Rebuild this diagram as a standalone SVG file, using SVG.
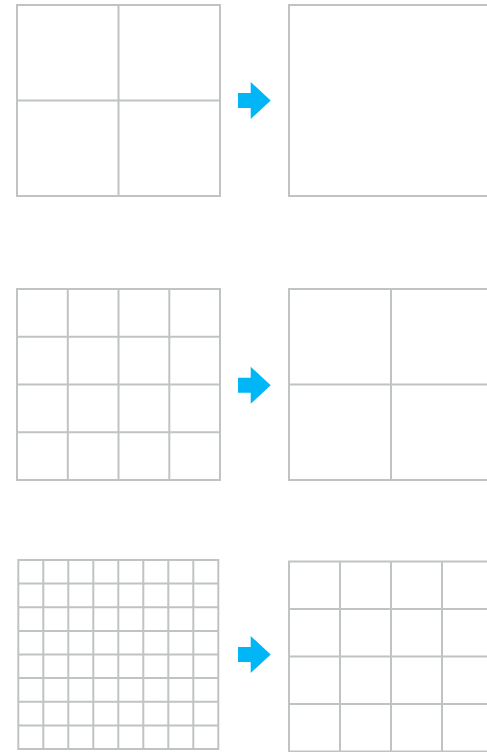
<svg xmlns="http://www.w3.org/2000/svg" width="487" height="752" viewBox="0 0 487 752">
<defs>
<style>
.g{fill:none;stroke:#c0c4c1;stroke-width:2}
.a{fill:#00b6f6}
</style>
<polygon id="arr" class="a" points="0,-7.5 12.7,-7.5 12.7,-18.5 32.7,0 12.7,18.5 12.7,7.5 0,7.5"/>
</defs>
<rect width="487" height="752" fill="#fff"/>
<g id="grid1-left">
<rect class="g" x="17" y="5" width="203" height="191"/>
<path class="g" d="M118.5 5V196M17 100.5H220"/>
</g>
<g id="grid1-right">
<rect class="g" x="289" y="5" width="203" height="191"/>
</g>
<g id="grid2-left">
<rect class="g" x="17" y="289" width="203" height="191"/>
<path class="g" d="M67.8 289V480M118.5 289V480M169.3 289V480M17 336.8H220M17 384.5H220M17 432.3H220"/>
</g>
<g id="grid2-right">
<rect class="g" x="289" y="289" width="203" height="191"/>
<path class="g" d="M391 289V480M289 384.5H492"/>
</g>
<g id="grid3-left">
<rect class="g" x="18.3" y="560" width="200" height="189"/>
<path class="g" d="M43.3 560V749M68.3 560V749M93.3 560V749M118.3 560V749M143.3 560V749M168.3 560V749M193.3 560V749M18.3 583.6H218.3M18.3 607.3H218.3M18.3 630.9H218.3M18.3 654.5H218.3M18.3 678.1H218.3M18.3 701.8H218.3M18.3 725.4H218.3"/>
</g>
<g id="grid3-right">
<rect class="g" x="289" y="561.5" width="204" height="190"/>
<path class="g" d="M340 561.5V751.5M391 561.5V751.5M442 561.5V751.5M289 609H493M289 656.5H493M289 704H493"/>
</g>
<g id="connectors">
<use href="#arr" x="238" y="100.5"/>
<use href="#arr" x="238" y="385.3"/>
<use href="#arr" x="238" y="654.5"/>
</g>
</svg>
